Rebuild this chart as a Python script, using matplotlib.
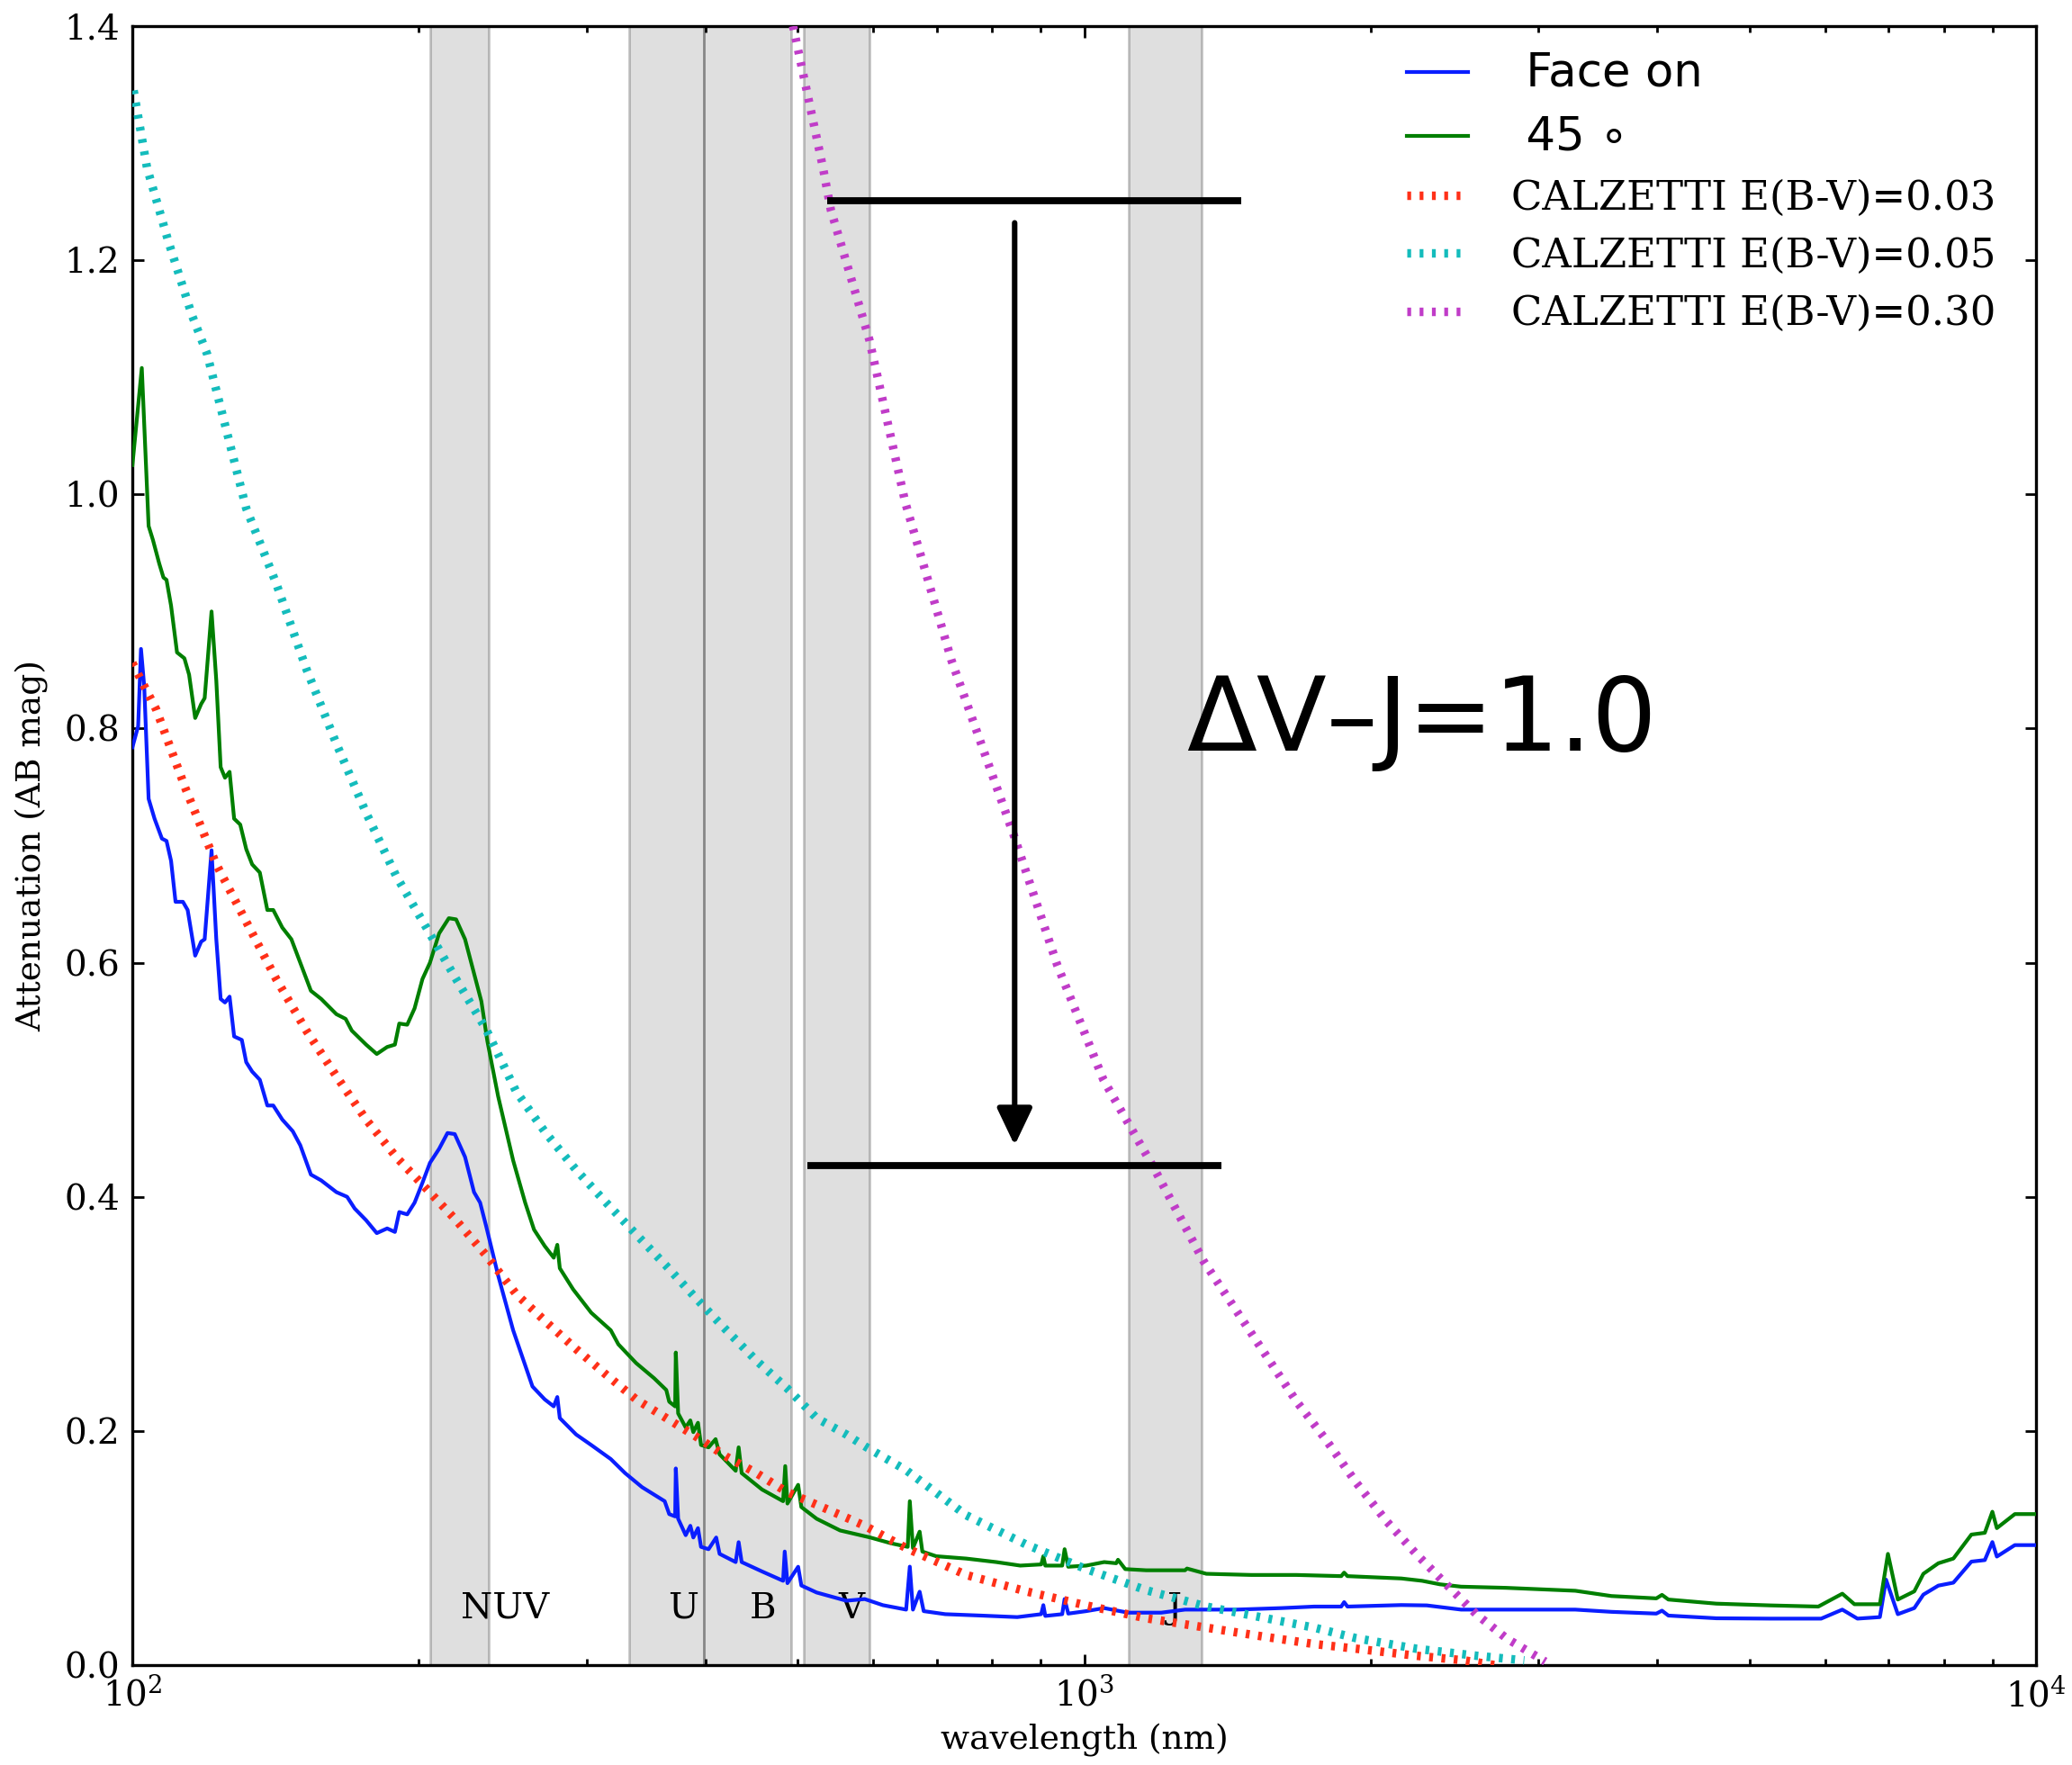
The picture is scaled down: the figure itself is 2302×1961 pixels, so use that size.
import numpy as np
import matplotlib
matplotlib.use("Agg")
import matplotlib.pyplot as plt
from matplotlib.ticker import FormatStrFormatter

# ---------------- data ----------------
# model attenuation curve, face-on view (wavelength in nm, attenuation in AB mag)
wl_face = [100.0, 101.4, 102.1, 102.9, 104.0, 105.5, 107.4, 108.6, 109.8, 111.0,
           113.0, 114.3, 116.4, 118.1, 119.1, 121.1, 122.5, 123.8, 125.1, 126.5,
           127.9, 130.3, 131.7, 133.6, 136.1, 138.6, 140.6, 143.7, 147.4, 150.1,
           154.0, 157.9, 163.8, 168.1, 171.2, 176.0, 180.6, 185.2, 188.7, 190.7,
           194.4, 197.9, 201.7, 205.4, 210.0, 214.3, 218.1, 223.6, 228.5, 231.9,
           235.3, 242.2, 251.2, 263.2, 271.1, 277.1, 279.5, 281.2, 292.5, 303.4,
           318.1, 329.3, 343.1, 362.4, 366.4, 371.7, 372.3, 374.4, 381.3, 385.6,
           388.4, 392.8, 395.7, 403.0, 410.5, 413.9, 430.3, 433.4, 436.6, 458.6,
           482.6, 484.5, 487.7, 500.5, 504.4, 523.4, 562.3, 588.0, 614.3, 649.9,
           655.7, 660.7, 671.5, 678.1, 714.4, 779.5, 850.4, 901.0, 905.7, 910.0,
           948.0, 953.5, 962.0, 1004.7, 1049.4, 1080.0, 1112.4, 1204.7, 1276.0, 1444.3,
           1610.6, 1744.0, 1862.0, 1875.0, 1890.0, 2153.0, 2290.0, 2488.0, 2775.0, 3280.0,
           3579.0, 3990.0, 4045.0, 4108.0, 4613.0, 5256.0, 5945.0, 6257.0, 6490.0, 6852.0,
           6955.0, 7156.0, 7447.0, 7612.0, 7893.0, 8185.0, 8550.0, 8832.0, 8995.0, 9093.0,
           9497.0, 10000.0]
att_face = [0.784, 0.802, 0.868, 0.836, 0.740, 0.723, 0.706, 0.704, 0.687, 0.652,
            0.652, 0.645, 0.606, 0.618, 0.620, 0.696, 0.620, 0.569, 0.566, 0.571,
            0.537, 0.534, 0.515, 0.507, 0.500, 0.478, 0.478, 0.466, 0.456, 0.444,
            0.419, 0.414, 0.404, 0.400, 0.390, 0.380, 0.369, 0.373, 0.370, 0.387,
            0.385, 0.395, 0.412, 0.429, 0.441, 0.4545, 0.4536, 0.434, 0.404, 0.395,
            0.375, 0.333, 0.286, 0.238, 0.227, 0.221, 0.229, 0.211, 0.197, 0.188,
            0.176, 0.164, 0.152, 0.140, 0.129, 0.127, 0.168, 0.125, 0.111, 0.119,
            0.109, 0.117, 0.101, 0.099, 0.109, 0.095, 0.088, 0.105, 0.088, 0.080,
            0.072, 0.097, 0.070, 0.084, 0.068, 0.062, 0.055, 0.0564, 0.0512, 0.0474,
            0.0841, 0.0474, 0.0627, 0.0461, 0.0435, 0.0423, 0.041, 0.0435, 0.0512, 0.042,
            0.0435, 0.0564, 0.044, 0.0461, 0.0487, 0.0467, 0.0448, 0.0448, 0.0474, 0.0474,
            0.0487, 0.050, 0.050, 0.0538, 0.050, 0.0513, 0.051, 0.0474, 0.0474, 0.0474,
            0.0455, 0.044, 0.0465, 0.0423, 0.040, 0.0397, 0.0397, 0.0474, 0.0397, 0.041,
            0.073, 0.0435, 0.0487, 0.0602, 0.0679, 0.0704, 0.0884, 0.0897, 0.1051, 0.0927,
            0.1025, 0.1025]

# model attenuation curve, 45 degree inclination
wl_incl = [100.0, 102.3, 104.0, 105.1, 106.7, 107.8, 108.6, 109.8, 111.4, 113.4,
           114.7, 116.4, 118.1, 119.1, 121.1, 122.5, 123.8, 125.1, 126.5, 127.9,
           129.8, 131.7, 133.6, 136.1, 138.6, 140.6, 143.7, 146.9, 150.1, 154.0,
           157.9, 163.8, 167.5, 170.0, 176.0, 180.6, 185.2, 188.7, 190.7, 194.4,
           197.9, 201.7, 205.4, 210.0, 215.0, 218.8, 223.6, 228.5, 232.6, 236.0,
           242.2, 251.2, 258.6, 264.2, 271.1, 277.1, 279.5, 281.2, 290.4, 303.4,
           318.1, 324.0, 338.2, 353.3, 363.8, 366.4, 371.7, 372.3, 374.4, 381.3,
           385.6, 388.4, 392.8, 395.7, 403.0, 409.9, 413.9, 430.3, 433.4, 436.6,
           458.6, 482.6, 485.1, 487.7, 500.5, 504.4, 523.4, 554.0, 595.9, 626.9,
           652.4, 655.7, 660.7, 671.5, 675.9, 698.9, 751.6, 808.3, 856.5, 901.2,
           905.7, 910.0, 948.0, 953.5, 961.9, 1004.7, 1049.4, 1080.4, 1085.0, 1104.2,
           1161.5, 1276.0, 1282.0, 1343.5, 1497.6, 1670.0, 1862.0, 1875.0, 1890.0, 2153.0,
           2264.0, 2364.0, 2488.0, 2775.0, 3280.0, 3579.0, 3990.0, 4045.0, 4108.0, 4613.0,
           5256.0, 5904.0, 6257.0, 6443.0, 6852.0, 6987.0, 7156.0, 7447.0, 7612.0, 7893.0,
           8185.0, 8550.0, 8832.0, 8995.0, 9093.0, 9497.0, 10000.0]
att_incl = [1.025, 1.108, 0.973, 0.961, 0.941, 0.929, 0.927, 0.905, 0.865, 0.860,
            0.846, 0.809, 0.821, 0.826, 0.900, 0.841, 0.767, 0.758, 0.763, 0.723,
            0.718, 0.697, 0.684, 0.677, 0.645, 0.645, 0.630, 0.620, 0.600, 0.576,
            0.569, 0.556, 0.552, 0.542, 0.530, 0.522, 0.528, 0.530, 0.548, 0.547,
            0.561, 0.586, 0.600, 0.625, 0.638, 0.637, 0.620, 0.591, 0.567, 0.533,
            0.486, 0.431, 0.395, 0.372, 0.358, 0.348, 0.359, 0.339, 0.321, 0.301,
            0.286, 0.274, 0.258, 0.245, 0.235, 0.225, 0.221, 0.267, 0.215, 0.203,
            0.209, 0.199, 0.207, 0.188, 0.186, 0.193, 0.180, 0.166, 0.186, 0.164,
            0.150, 0.140, 0.170, 0.138, 0.154, 0.135, 0.125, 0.115, 0.109, 0.104,
            0.101, 0.140, 0.100, 0.114, 0.097, 0.093, 0.091, 0.088, 0.085, 0.086,
            0.093, 0.085, 0.085, 0.099, 0.084, 0.085, 0.088, 0.087, 0.090, 0.082,
            0.081, 0.081, 0.0825, 0.078, 0.077, 0.077, 0.076, 0.079, 0.076, 0.074,
            0.072, 0.069, 0.067, 0.066, 0.0635, 0.059, 0.057, 0.060, 0.056, 0.0525,
            0.051, 0.050, 0.061, 0.052, 0.052, 0.095, 0.056, 0.063, 0.078, 0.087,
            0.091, 0.1115, 0.113, 0.131, 0.117, 0.129, 0.129]

# Calzetti attenuation, E(B-V) = 0.03
wl_c03 = [100.0, 105.9, 113.8, 122.5, 131.7, 141.6, 152.3, 163.8, 176.0, 189.3,
          203.6, 218.8, 235.3, 253.0, 272.1, 292.5, 314.6, 338.2, 363.8, 391.3,
          420.8, 452.5, 486.6, 523.4, 562.3, 588.0, 649.9, 751.6, 868.9, 1004.7,
          1161.5, 1343.5, 1552.6, 1744.0, 1930.0, 2232.0, 2508.0, 2700.0]
att_c03 = [0.856, 0.8165, 0.748, 0.684, 0.635, 0.586, 0.542, 0.503, 0.466, 0.434,
           0.407, 0.380, 0.350, 0.317, 0.293, 0.270, 0.248, 0.227, 0.211, 0.195,
           0.178, 0.164, 0.148, 0.137, 0.126, 0.119, 0.100, 0.077, 0.063, 0.051,
           0.040, 0.032, 0.024, 0.018, 0.014, 0.008, 0.004, 0.000]

# Calzetti attenuation, E(B-V) = 0.05
wl_c05 = [100.3, 103.6, 109.0, 115.5, 119.8, 131.7, 141.6, 152.3, 163.8, 176.0,
          189.3, 203.6, 218.8, 235.3, 253.0, 272.1, 292.5, 314.6, 338.2, 363.8,
          391.3, 420.8, 452.5, 486.6, 523.4, 562.3, 588.0, 649.9, 751.6, 868.9,
          1004.7, 1161.5, 1343.5, 1552.6, 1744.0, 1930.0, 2232.0, 2581.0, 2899.0]
att_c05 = [1.345, 1.279, 1.217, 1.153, 1.120, 0.988, 0.924, 0.851, 0.787, 0.728,
           0.674, 0.630, 0.586, 0.543, 0.490, 0.454, 0.423, 0.395, 0.368, 0.341,
           0.313, 0.286, 0.260, 0.237, 0.211, 0.197, 0.187, 0.1665, 0.128, 0.103,
           0.082, 0.064, 0.050, 0.040, 0.032, 0.023, 0.014, 0.008, 0.004]

# Calzetti attenuation, E(B-V) = 0.30
wl_c30 = [494.4, 531.2, 541.7, 594.6, 648.6, 725.4, 843.1, 936.7, 1047.4, 1113.7,
          1179.0, 1334.6, 1670.0, 1796.0, 1930.0, 2077.0, 2232.0, 2400.0, 2581.0, 2775.0,
          3050.0]
att_c30 = [1.400, 1.280, 1.243, 1.132, 0.993, 0.858, 0.709, 0.598, 0.500, 0.462,
           0.427, 0.345, 0.2255, 0.192, 0.156, 0.123, 0.095, 0.069, 0.0435, 0.023,
           0.003]

# photometric bands (nm)
band_names = ["NUV", "U", "B", "V", "J"]
band_lo = [205.7, 332.8, 398.2, 507.3, 1113.7]
band_hi = [237.0, 398.2, 492.6, 595.0, 1328.6]

# V-J difference marker
vj_top = 1.251
vj_bottom = 0.427
vj_label = "ΔV–J=1.0"

# ---------------- figure ----------------
plt.rcParams["font.family"] = ["DejaVu Serif"]
plt.rcParams["mathtext.fontset"] = "dejavuserif"

fig = plt.figure(figsize=(11.51, 9.805), dpi=200)
ax = fig.add_axes([0.0639, 0.0566, 0.9188, 0.9286])

for lo, hi, name in zip(band_lo, band_hi, band_names):
    ax.axvspan(lo, hi, facecolor=(0, 0, 0, 0.125), edgecolor=(0, 0, 0, 0.22),
               lw=1.0, zorder=0)
    ax.text(0.5 * (lo + hi), 0.04, name, ha="left", va="baseline",
            fontsize=14.5, zorder=1)

dots = (0, (0.45, 1.0))
ax.plot(wl_face, att_face, color="#0a1eff", lw=1.5, label=" Face on", zorder=3)
ax.plot(wl_incl, att_incl, color="#007f00", lw=1.5, label=" 45 ∘", zorder=3)
ax.plot(wl_c03, att_c03, color="#ff3018", lw=3.4, ls=dots,
        label="CALZETTI E(B-V)=0.03", zorder=4)
ax.plot(wl_c05, att_c05, color="#14bcbc", lw=3.4, ls=dots,
        label="CALZETTI E(B-V)=0.05", zorder=4)
ax.plot(wl_c30, att_c30, color="#c03cc8", lw=3.4, ls=dots,
        label="CALZETTI E(B-V)=0.30", zorder=4)

# V-J difference: two reference levels and an arrow between them
ax.plot([537, 1462], [vj_top, vj_top], color="k", lw=2.8, solid_capstyle="butt", zorder=5)
ax.plot([512, 1393], [vj_bottom, vj_bottom], color="k", lw=2.8, solid_capstyle="butt", zorder=5)
ax.annotate("", xy=(845, 0.444), xytext=(845, 1.232),
            arrowprops=dict(arrowstyle="-|>,head_length=0.42,head_width=0.2",
                            mutation_scale=30, lw=2.2, color="k",
                            shrinkA=0, shrinkB=0), zorder=5)
ax.text(1280, 0.781, vj_label, fontsize=41, family=["DejaVu Sans"],
        ha="left", va="baseline", zorder=5)

ax.set_xscale("log")
ax.set_xlim(100, 10000)
ax.set_ylim(0, 1.4)
ax.set_yticks(np.arange(0, 1.41, 0.2))
ax.yaxis.set_major_formatter(FormatStrFormatter("%.1f"))

ax.tick_params(which="both", direction="in", top=True, right=True, width=1.0)
ax.tick_params(which="major", length=4.5, labelsize=14, pad=5)
ax.tick_params(which="minor", length=2.5)
for s in ax.spines.values():
    s.set_linewidth(1.2)

ax.set_xlabel("wavelength (nm)", fontsize=13.5, labelpad=4)
ax.set_ylabel("Attenuation (AB mag)", fontsize=13.5, labelpad=6)

leg = ax.legend(loc="upper left", bbox_to_anchor=(0.6695, 0.985), frameon=False,
                fontsize=16.2, borderpad=0, borderaxespad=0, handlelength=1.5,
                handletextpad=1.08, labelspacing=0.47)
for t in leg.get_texts()[:2]:
    t.set_family(["DejaVu Sans"])
    t.set_fontsize(18.5)

fig.savefig("out.png", dpi=200)
